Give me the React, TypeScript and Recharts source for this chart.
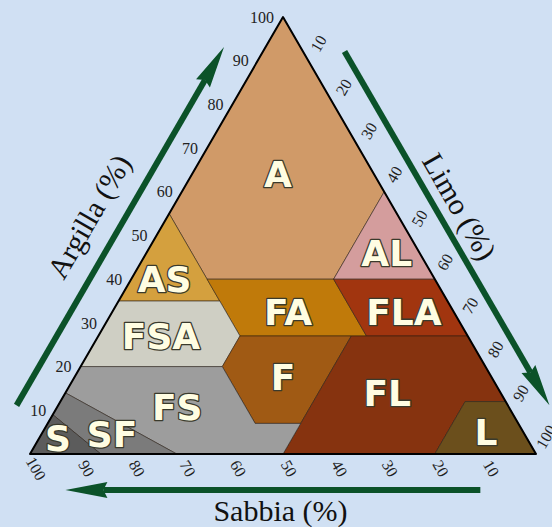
import React from 'react';
import { ScatterChart, Scatter, XAxis, YAxis } from 'recharts';

// Ternary compositions are [sand %, silt %, clay %]
type Tern = [number, number, number];

// Soil texture classes (Italian names)
const classNames = ['A', 'AL', 'AS', 'FA', 'FLA', 'FSA', 'F', 'FL', 'L', 'FS', 'SF', 'S'];

const verticesA: Tern[] = [[0, 0, 100], [45, 0, 55], [45, 15, 40], [20, 40, 40], [0, 40, 60]];
const verticesAL: Tern[] = [[0, 40, 60], [20, 40, 40], [0, 60, 40]];
const verticesAS: Tern[] = [[45, 0, 55], [65, 0, 35], [45, 20, 35], [45, 15, 40]];
const verticesFA: Tern[] = [[45, 15, 40], [45, 20, 35], [45, 28, 27], [20, 53, 27], [20, 40, 40]];
const verticesFLA: Tern[] = [[20, 40, 40], [20, 53, 27], [0, 73, 27], [0, 60, 40]];
const verticesFSA: Tern[] = [[65, 0, 35], [80, 0, 20], [52, 28, 20], [45, 28, 27], [45, 20, 35]];
const verticesF: Tern[] = [[45, 28, 27], [52, 28, 20], [52, 41, 7], [43, 50, 7], [23, 50, 27]];
const verticesFL: Tern[] = [[23, 50, 27], [0, 73, 27], [0, 88, 12], [8, 80, 12], [20, 80, 0], [50, 50, 0], [43, 50, 7]];
const verticesL: Tern[] = [[0, 88, 12], [0, 100, 0], [20, 80, 0], [8, 80, 12]];
const verticesFS: Tern[] = [[80, 0, 20], [52, 28, 20], [52, 41, 7], [43, 50, 7], [50, 50, 0], [71, 29, 0], [86, 0, 14]];
const verticesSF: Tern[] = [[86, 0, 14], [71, 29, 0], [86, 14, 0], [91, 0, 9]];
const verticesS: Tern[] = [[91, 0, 9], [86, 14, 0], [100, 0, 0]];

const classVertices: Tern[][] = [
  verticesA, verticesAL, verticesAS, verticesFA, verticesFLA, verticesFSA,
  verticesF, verticesFL, verticesL, verticesFS, verticesSF, verticesS,
];

// Representative composition where each class name is written
const labelPoints: Tern[] = [
  [19, 17, 64], [6.5, 47.5, 46], [53.4, 6.6, 40], [32.75, 34.75, 32.5], [9.85, 57.65, 32.5], [60.6, 12.4, 27],
  [41.2, 41.2, 17.6], [22.4, 63.6, 14], [7.4, 87.6, 5], [65.5, 23.7, 10.8], [81.5, 13.9, 4.6], [92.6, 3.7, 3.7],
];

const tickValues = [10, 20, 30, 40, 50, 60, 70, 80, 90, 100];
const triangleCorners: Tern[] = [[100, 0, 0], [0, 0, 100], [0, 100, 0]];

// axis names and arrow extents (percent along each side)
const axisTitles = ['Argilla (%)', 'Limo (%)', 'Sabbia (%)'];
const clayArrow = [7, 89];
const siltArrow = [12, 93];
const sandArrow = [11, 93];
const clayTitleAt = 46.6;
const siltTitleAt = 50;
const sandTitleAt = 50;

// ---- styles ----
const classColors: Record<string, string> = {
  A: '#d09a68', AL: '#d49d9d', AS: '#d4a03e', FA: '#c07a0a', FLA: '#a1350f', FSA: '#cfcfc4',
  F: '#a05a14', FL: '#86330f', L: '#6b4f1c', FS: '#9d9d9d', SF: '#7b7b7b', S: '#5c5c5c',
};
const BG = '#d0e0f3';
const GREEN = '#0b5229';
const SERIF = '"Liberation Serif", "Times New Roman", serif';

const toXY = ([, silt, clay]: Tern) => ({ x: silt + clay / 2, y: clay });

const WIDTH = 552;
const HEIGHT = 527;
const X0 = 30, PX_X = 5.06;
const Y0 = 454, PX_Y = 4.37;
const xDomain: [number, number] = [-X0 / PX_X, (WIDTH - X0) / PX_X];
const yDomain: [number, number] = [(Y0 - HEIGHT) / PX_Y, Y0 / PX_Y];

const noDot = () => <g />;

const polygonLine = (fill: string, stroke: string, strokeWidth: number) => (props: any) => {
  const pts = (props.points || []) as { x: number; y: number }[];
  const d = pts.map((p, i) => `${i ? 'L' : 'M'}${p.x},${p.y}`).join('') + 'Z';
  return <path d={d} fill={fill} stroke={stroke} strokeWidth={strokeWidth} strokeLinejoin="round" />;
};

const arrowLine = (props: any) => {
  const pts = (props.points || []) as { x: number; y: number }[];
  if (pts.length < 2) return <g />;
  const [a, b] = pts;
  const len = Math.hypot(b.x - a.x, b.y - a.y);
  const dx = (b.x - a.x) / len, dy = (b.y - a.y) / len;
  const nx = dy, ny = -dx;
  const off = 36;
  const s = { x: a.x + nx * off, y: a.y + ny * off };
  const t = { x: b.x + nx * off, y: b.y + ny * off };
  const headLen = 42, headW = 8;
  const base = { x: t.x - dx * headLen, y: t.y - dy * headLen };
  return (
    <g>
      <line x1={s.x} y1={s.y} x2={base.x + dx * 4} y2={base.y + dy * 4} stroke={GREEN} strokeWidth={6} />
      <path
        d={`M${t.x},${t.y}L${base.x + nx * headW},${base.y + ny * headW}L${base.x + dx * 4},${base.y + dy * 4}L${base.x - nx * headW},${base.y - ny * headW}Z`}
        fill={GREEN}
      />
    </g>
  );
};

const clayTickData = tickValues.map((v) => ({ ...toXY([100 - v, 0, v]), label: String(v) }));
const siltTickData = tickValues.map((v) => ({ ...toXY([0, v, 100 - v]), label: String(v) }));
const sandTickData = tickValues.map((v) => ({ ...toXY([v, 100 - v, 0]), label: String(v) }));

const clayTick = (p: any) => (
  <text x={p.cx - 9} y={p.cy} dy="0.35em" textAnchor="end" fontFamily={SERIF} fontSize={16} fill="#222">
    {p.payload.label}
  </text>
);
const siltTick = (p: any) => {
  const x = p.cx + 10, y = p.cy - 17.3;
  return (
    <text x={x} y={y} dy="0.35em" textAnchor="middle" fontFamily={SERIF} fontSize={16} fill="#222"
      transform={`rotate(-60 ${x} ${y})`}>
      {p.payload.label}
    </text>
  );
};
const sandTick = (p: any) => {
  const x = p.cx + 6, y = p.cy + 14.5;
  return (
    <text x={x} y={y} dy="0.35em" textAnchor="middle" fontFamily={SERIF} fontSize={16} fill="#222"
      transform={`rotate(60 ${x} ${y})`}>
      {p.payload.label}
    </text>
  );
};

const titleShape = (ox: number, oy: number, rot: number) => (p: any) => {
  const x = p.cx + ox, y = p.cy + oy;
  return (
    <text x={x} y={y} dy="0.35em" textAnchor="middle" fontFamily={SERIF} fontSize={30} fill="#111"
      transform={`rotate(${rot} ${x} ${y})`}>
      {p.payload.label}
    </text>
  );
};

const classLabelShape = (p: any) => (
  <text x={p.cx} y={p.cy} dy="0.36em" textAnchor="middle" fontFamily='"DejaVu Sans", sans-serif'
    fontWeight="bold" fontSize={36} fill="#fffde2" stroke="#3a3a2c" strokeWidth={2.6}
    paintOrder="stroke" strokeLinejoin="round">
    {p.payload.label}
  </text>
);

export default function App() {
  const labelData = classNames.map((n, i) => ({ ...toXY(labelPoints[i]), label: n }));
  return (
    <div style={{ position: 'absolute', left: 0, top: 0, width: WIDTH, height: HEIGHT, background: BG, overflow: 'hidden' }}>
      <ScatterChart width={WIDTH} height={HEIGHT} margin={{ top: 0, right: 0, bottom: 0, left: 0 }}>
        <XAxis type="number" dataKey="x" domain={xDomain} allowDataOverflow hide />
        <YAxis type="number" dataKey="y" domain={yDomain} allowDataOverflow hide />
        {classNames.map((n, i) => (
          <Scatter key={n} data={classVertices[i].map(toXY)} shape={noDot}
            line={polygonLine(classColors[n], 'rgba(40,28,16,0.55)', 1)} isAnimationActive={false} />
        ))}
        <Scatter data={triangleCorners.map(toXY)} shape={noDot} line={polygonLine('none', '#000', 2)} isAnimationActive={false} />
        <Scatter data={clayArrow.map((v) => toXY([100 - v, 0, v]))} shape={noDot} line={arrowLine} isAnimationActive={false} />
        <Scatter data={siltArrow.map((v) => toXY([0, v, 100 - v]))} shape={noDot} line={arrowLine} isAnimationActive={false} />
        <Scatter data={sandArrow.map((v) => toXY([v, 100 - v, 0]))} shape={noDot} line={arrowLine} isAnimationActive={false} />
        <Scatter data={clayTickData} shape={clayTick} isAnimationActive={false} />
        <Scatter data={siltTickData} shape={siltTick} isAnimationActive={false} />
        <Scatter data={sandTickData} shape={sandTick} isAnimationActive={false} />
        <Scatter data={[{ ...toXY([100 - clayTitleAt, 0, clayTitleAt]), label: axisTitles[0] }]}
          shape={titleShape(-58.9, -34, -60)} isAnimationActive={false} />
        <Scatter data={[{ ...toXY([0, siltTitleAt, 100 - siltTitleAt]), label: axisTitles[1] }]}
          shape={titleShape(50.2, -29, 60)} isAnimationActive={false} />
        <Scatter data={[{ ...toXY([sandTitleAt, 100 - sandTitleAt, 0]), label: axisTitles[2] }]}
          shape={titleShape(-2.5, 56, 0)} isAnimationActive={false} />
        <Scatter data={labelData} shape={classLabelShape} isAnimationActive={false} />
      </ScatterChart>
    </div>
  );
}
